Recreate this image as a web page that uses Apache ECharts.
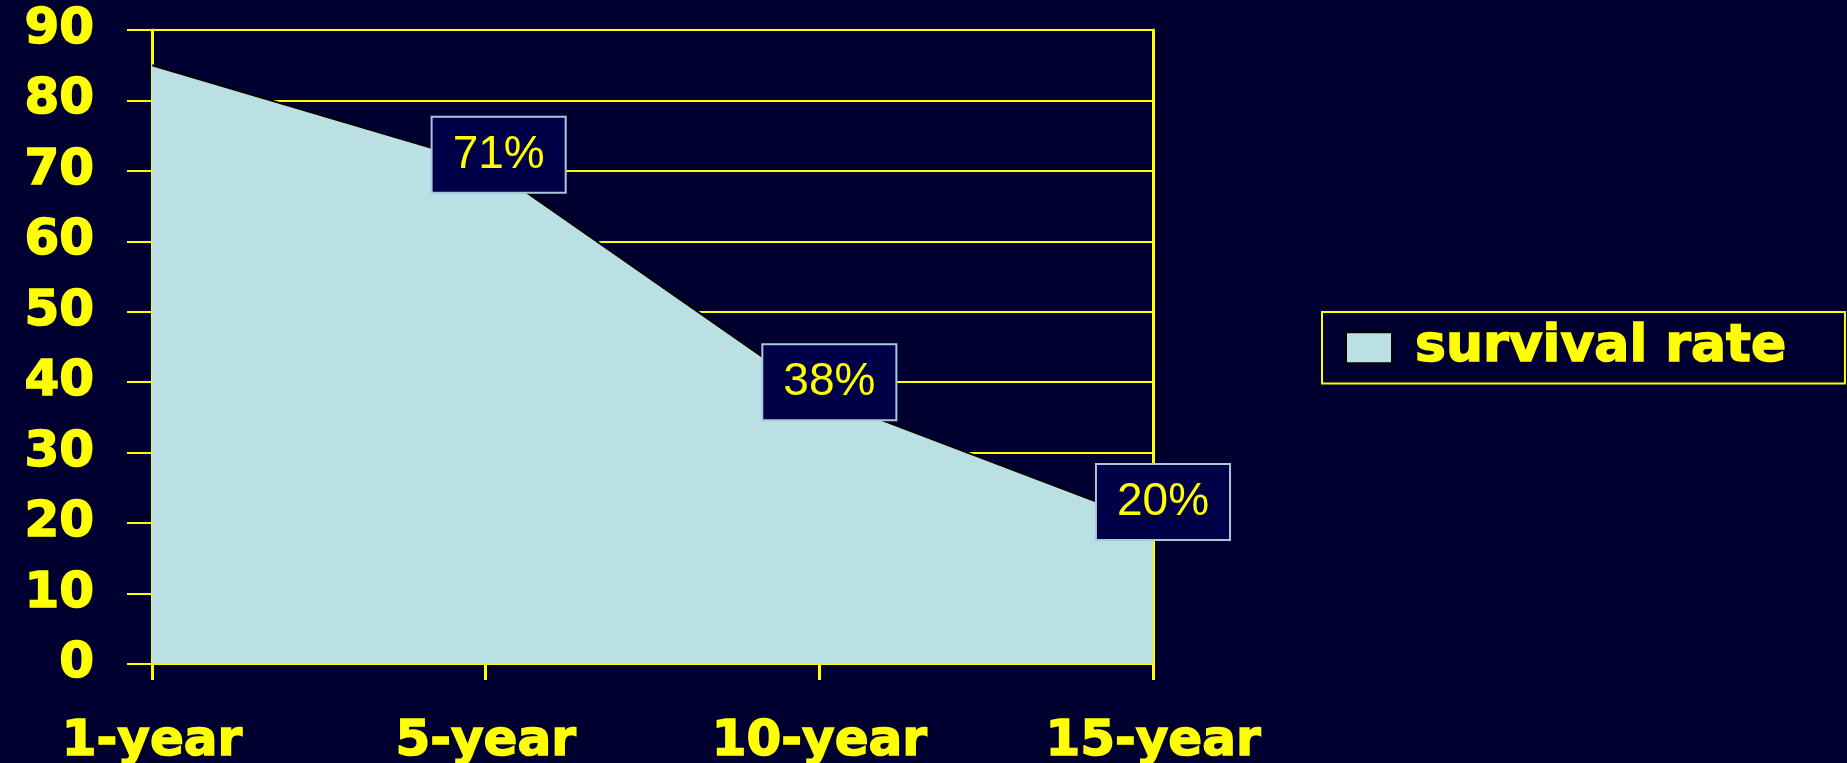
<!DOCTYPE html>
<html>
<head>
<meta charset="utf-8">
<style>
  html, body { margin: 0; padding: 0; background: #000030; }
  #chart { width: 1847px; height: 763px; }
</style>
<script src="https://cdn.jsdelivr.net/npm/echarts@6/dist/echarts.min.js"></script>
</head>
<body>
<div id="chart"></div>
<script>
// ---- data ----
const categories = ['1-year', '5-year', '10-year', '15-year'];
const survivalRate = [85, 71, 38, 20];
const valueLabels = ['', '71%', '38%', '20%'];
const seriesName = 'survival rate';
const yTicks = [0, 10, 20, 30, 40, 50, 60, 70, 80, 90];

// label box offsets (style, kept separate from data)
const labelOffsets = [[0, 0], [13, -9], [10, -14], [10, -21]];

const YELLOW = '#ffff00';
const BOLD_FONT = '"DejaVu Sans", "Liberation Sans", Arial, sans-serif';
const boldText = {
  color: YELLOW, fontFamily: BOLD_FONT, fontWeight: 'bold', fontSize: 50,
  textBorderColor: YELLOW, textBorderWidth: 1.5
};

const chart = echarts.init(document.getElementById('chart'));

const seriesData = survivalRate.map((v, i) => ({
  value: v,
  label: {
    show: valueLabels[i] !== '',
    formatter: valueLabels[i],
    offset: labelOffsets[i]
  }
}));

chart.setOption({
  backgroundColor: '#000030',
  animation: false,
  grid: { left: 152, right: 694, top: 30, bottom: 99, containLabel: false, outerBoundsMode: 'none' },
  legend: {
    data: [seriesName],
    left: 1322, top: 312,
    orient: 'horizontal',
    padding: [9, 58, 9, 23],
    borderColor: YELLOW, borderWidth: 2,
    itemWidth: 46, itemHeight: 31,
    icon: 'rect',
    itemStyle: { color: '#bbe0e3', borderColor: '#000000', borderWidth: 2 },
    formatter: n => ' ' + n,
    textStyle: Object.assign({}, boldText, { fontSize: 52 })
  },
  xAxis: {
    type: 'category',
    data: categories,
    boundaryGap: false,
    axisLine: { show: true, lineStyle: { color: YELLOW, width: 2 } },
    axisTick: { show: true, length: 16, lineStyle: { color: YELLOW, width: 3 } },
    axisLabel: Object.assign({}, boldText, { margin: 53 }),
    splitLine: { show: false }
  },
  yAxis: [{
    type: 'value',
    min: yTicks[0], max: yTicks[yTicks.length - 1], interval: 10,
    axisLine: { show: true, lineStyle: { color: YELLOW, width: 3 } },
    axisTick: { show: true, length: 25, lineStyle: { color: YELLOW, width: 2 } },
    axisLabel: Object.assign({}, boldText, { margin: 58 }),
    splitLine: { show: true, lineStyle: { color: YELLOW, width: 2 } }
  }, {
    type: 'value',
    position: 'right',
    min: yTicks[0], max: yTicks[yTicks.length - 1], interval: 10,
    axisLine: { show: true, lineStyle: { color: YELLOW, width: 3 } },
    axisTick: { show: false },
    axisLabel: { show: false },
    splitLine: { show: false }
  }],
  series: [{
    name: seriesName,
    type: 'line',
    data: seriesData,
    symbol: 'circle',
    symbolSize: 1,
    showSymbol: true,
    lineStyle: { color: '#000000', width: 2 },
    itemStyle: { color: '#bbe0e3' },
    areaStyle: { color: '#bbe0e3', opacity: 1 },
    label: {
      show: true,
      position: 'inside',
      color: YELLOW,
      fontFamily: '"Liberation Sans", Arial, sans-serif',
      fontSize: 46,
      lineHeight: 46,
      backgroundColor: '#000048',
      borderColor: '#a8c8dc',
      borderWidth: 2,
      padding: [14, 20, 14, 20]
    },
    z: 3
  }]
});
</script>
</body>
</html>
